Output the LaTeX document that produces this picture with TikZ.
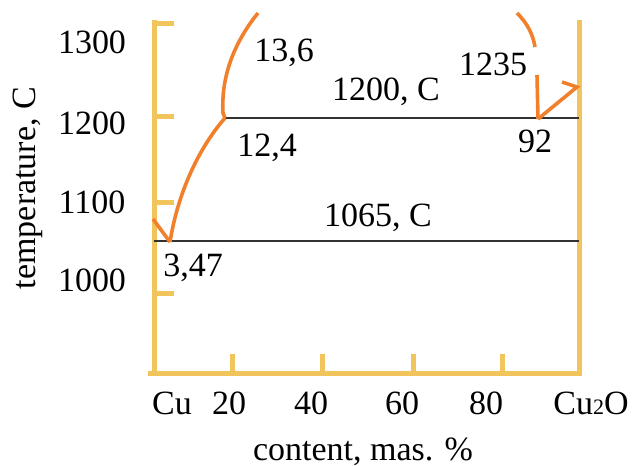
\documentclass[tikz,border=0pt]{standalone}
\usepackage{fontspec}
\setmainfont{Liberation Serif}
\definecolor{axisyel}{RGB}{242,196,92}
\definecolor{curveor}{RGB}{240,128,44}
\definecolor{isoline}{RGB}{50,50,50}
\begin{document}
\begin{tikzpicture}[x=1pt,y=-1pt,
  axisline/.style={draw=axisyel,line width=5pt},
  curve/.style={draw=curveor,line width=3.6pt},
  iso/.style={draw=isoline,line width=1.8pt},
  lbl/.style={font=\fontsize{34}{38}\selectfont,inner sep=0pt,text=black}]
\useasboundingbox (0,0) rectangle (633,466);
% axes
\coordinate (tl) at (154,20);
\coordinate (bl) at (154,373);
\coordinate (br) at (579,373);
\coordinate (tr) at (579,20);
\draw[axisline] (tl) -- (bl);
\draw[axisline] (148,373) -- (582,373);
\draw[axisline] (tr) -- (br);
% left ticks
\foreach \yy in {23,116,202,293}{
  \draw[axisyel,line width=5pt] (152,\yy) -- (174,\yy);
}
% bottom ticks
\foreach \xx in {232,322,413,502}{
  \draw[axisyel,line width=5pt] (\xx,375) -- (\xx,354);
}
% isotherms
\coordinate (e1) at (225,118);
\coordinate (e2) at (579,118);
\coordinate (f1) at (154,241);
\coordinate (f2) at (579,241);
\draw[iso] (e1) -- (e2);
\draw[iso] (f1) -- (f2);
% curves
\coordinate (a0) at (258,13);
\coordinate (a1) at (223,113);
\coordinate (p347) at (170,242);
\draw[curve,line join=round] (a0) .. controls (233,44) and (221,78) .. (a1) -- (e1);
\draw[curve] (e1) .. controls (203,143) and (179,186) .. (p347);
\draw[curve] (153,219) -- (p347);
% right side
\draw[curve] (517,13) .. controls (528,24) and (533,35) .. (535,47);
\coordinate (p92) at (538,119);
\draw[curve] (537,75) -- (p92);
\draw[curve,line join=miter] (p92) -- (577,87) -- (562,82);
% labels
\node[lbl] (l136) at (284,53) {13,6};
\node[lbl] (l1200c) at (386,92) {1200, C};
\node[lbl] (l124) at (267,148) {12,4};
\node[lbl] (l1235) at (493,64) {1235};
\node[lbl] (l92) at (535,141) {92};
\node[lbl] (l1065c) at (378,218) {1065, C};
\node[lbl] (l347) at (193,268) {3,47};
% y tick labels
\node[lbl] (y1300) at (92,42) {1300};
\node[lbl] (y1200) at (92,123) {1200};
\node[lbl] (y1100) at (92,202) {1100};
\node[lbl] (y1000) at (92,280) {1000};
\node[lbl,rotate=90] (ylab) at (28,188) {temperature, C};
% x tick labels
\node[lbl] (xcu) at (172,403) {Cu};
\node[lbl] (x20) at (229,403) {20};
\node[lbl] (x40) at (311,403) {40};
\node[lbl] (x60) at (402,403) {60};
\node[lbl] (x80) at (486,403) {80};
\node[lbl] (xcu2o) at (591,403) {Cu{\fontsize{22}{22}\selectfont 2}O};
\node[lbl,anchor=base] (xlab) at (363,460) {content, mas. \%};
\end{tikzpicture}
\end{document}
